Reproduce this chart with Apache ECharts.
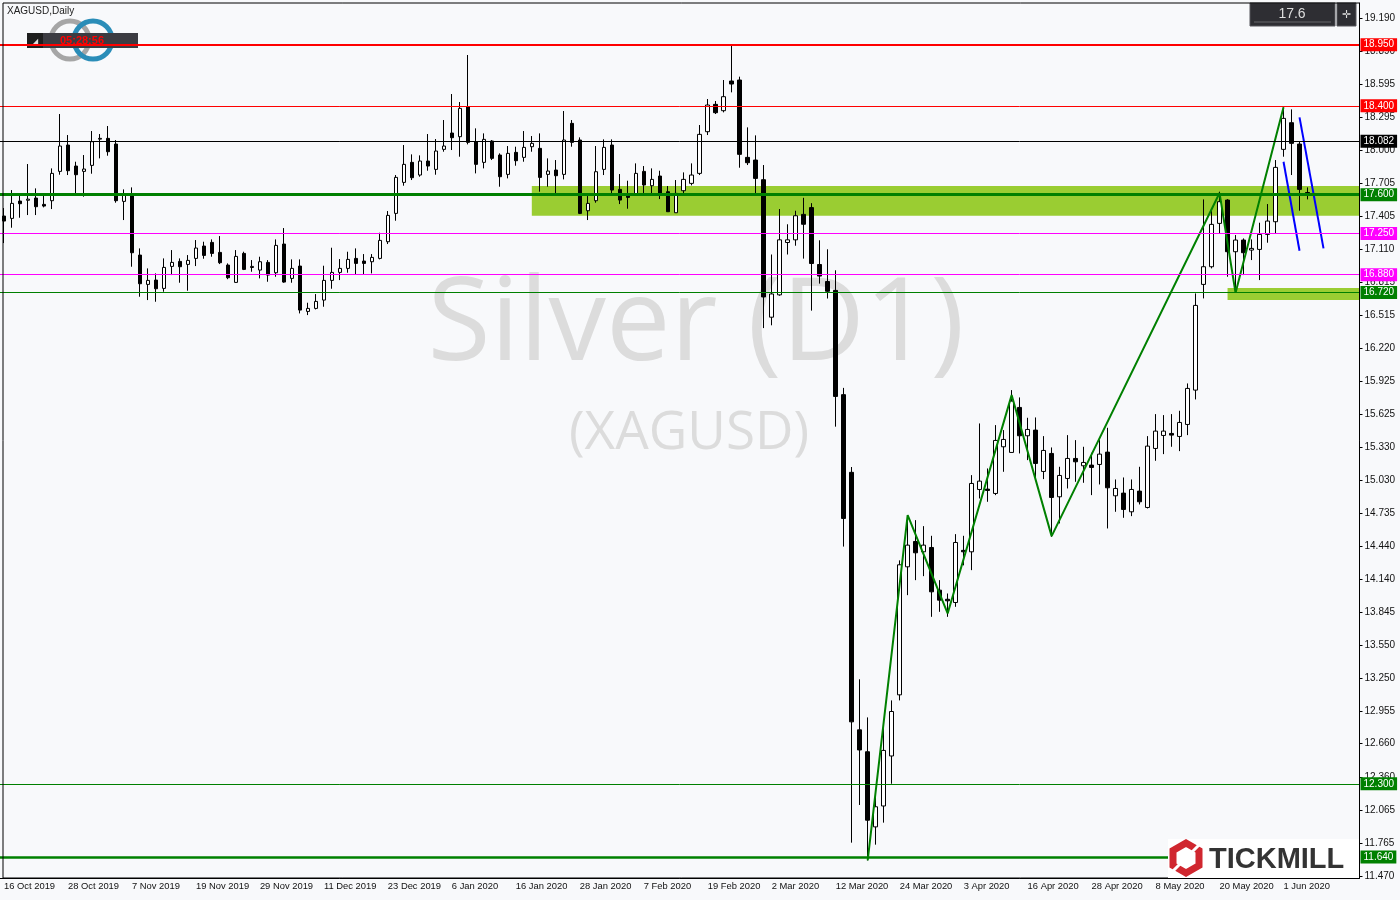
<!DOCTYPE html>
<html><head><meta charset="utf-8">
<script src="https://cdn.jsdelivr.net/npm/echarts/dist/echarts.min.js"></script>
<style>html,body{margin:0;padding:0;background:#f8f9fb;}#c{width:1400px;height:900px;}</style>
</head><body><div id="c"></div>
<script>
const dates = ['16 Oct 2019','17 Oct 2019','18 Oct 2019','21 Oct 2019','22 Oct 2019','23 Oct 2019','24 Oct 2019','25 Oct 2019','28 Oct 2019','29 Oct 2019','30 Oct 2019','31 Oct 2019',
'1 Nov 2019','4 Nov 2019','5 Nov 2019','6 Nov 2019','7 Nov 2019','8 Nov 2019','11 Nov 2019','12 Nov 2019','13 Nov 2019','14 Nov 2019','15 Nov 2019','18 Nov 2019','19 Nov 2019','20 Nov 2019','21 Nov 2019','22 Nov 2019','25 Nov 2019','26 Nov 2019','27 Nov 2019','28 Nov 2019','29 Nov 2019',
'2 Dec 2019','3 Dec 2019','4 Dec 2019','5 Dec 2019','6 Dec 2019','9 Dec 2019','10 Dec 2019','11 Dec 2019','12 Dec 2019','13 Dec 2019','16 Dec 2019','17 Dec 2019','18 Dec 2019','19 Dec 2019','20 Dec 2019','23 Dec 2019','24 Dec 2019','26 Dec 2019','27 Dec 2019','30 Dec 2019','31 Dec 2019',
'2 Jan 2020','3 Jan 2020','6 Jan 2020','7 Jan 2020','8 Jan 2020','9 Jan 2020','10 Jan 2020','13 Jan 2020','14 Jan 2020','15 Jan 2020','16 Jan 2020','17 Jan 2020','20 Jan 2020','21 Jan 2020','22 Jan 2020','23 Jan 2020','24 Jan 2020','27 Jan 2020','28 Jan 2020','29 Jan 2020','30 Jan 2020','31 Jan 2020',
'3 Feb 2020','4 Feb 2020','5 Feb 2020','6 Feb 2020','7 Feb 2020','10 Feb 2020','11 Feb 2020','12 Feb 2020','13 Feb 2020','14 Feb 2020','17 Feb 2020','18 Feb 2020','19 Feb 2020','20 Feb 2020','21 Feb 2020','24 Feb 2020','25 Feb 2020','26 Feb 2020','27 Feb 2020','28 Feb 2020',
'2 Mar 2020','3 Mar 2020','4 Mar 2020','5 Mar 2020','6 Mar 2020','9 Mar 2020','10 Mar 2020','11 Mar 2020','12 Mar 2020','13 Mar 2020','16 Mar 2020','17 Mar 2020','18 Mar 2020','19 Mar 2020','20 Mar 2020','23 Mar 2020','24 Mar 2020','25 Mar 2020','26 Mar 2020','27 Mar 2020','30 Mar 2020','31 Mar 2020',
'1 Apr 2020','2 Apr 2020','3 Apr 2020','6 Apr 2020','7 Apr 2020','8 Apr 2020','9 Apr 2020','13 Apr 2020','14 Apr 2020','15 Apr 2020','16 Apr 2020','17 Apr 2020','20 Apr 2020','21 Apr 2020','22 Apr 2020','23 Apr 2020','24 Apr 2020','27 Apr 2020','28 Apr 2020','29 Apr 2020','30 Apr 2020',
'1 May 2020','4 May 2020','5 May 2020','6 May 2020','7 May 2020','8 May 2020','11 May 2020','12 May 2020','13 May 2020','14 May 2020','15 May 2020','18 May 2020','19 May 2020','20 May 2020','21 May 2020','22 May 2020','25 May 2020','26 May 2020','27 May 2020','28 May 2020','29 May 2020',
'1 Jun 2020','2 Jun 2020','3 Jun 2020','4 Jun 2020',
'5 Jun 2020','8 Jun 2020','9 Jun 2020','10 Jun 2020','11 Jun 2020','12 Jun 2020'];

const opens = [17.408,17.387,17.543,17.55,17.57,17.513,17.546,17.81,18.047,17.858,17.81,17.864,18.10,18.107,18.056,17.54,17.597,17.057,16.793,16.832,
16.757,16.955,17.0,16.973,17.027,17.138,17.171,17.081,16.967,16.811,17.072,16.945,16.922,16.991,16.898,17.156,16.847,16.958,16.55,16.577,
16.652,16.829,16.901,16.937,17.027,17.003,16.997,17.027,17.177,17.432,17.711,17.891,17.777,17.903,17.828,18.008,18.155,18.122,18.392,18.077,
17.891,18.083,17.957,17.783,17.981,17.936,18.032,18.017,17.783,17.822,17.783,18.242,18.092,17.456,17.546,17.828,18.047,17.648,17.588,17.606,
17.81,17.681,17.768,17.627,17.438,17.636,17.702,17.792,18.167,18.413,18.356,18.623,18.632,17.936,17.912,17.735,16.498,16.699,17.17,17.194,
17.423,17.484,16.972,16.819,16.739,15.801,15.102,12.785,12.588,11.912,12.10,12.55,13.10,14.252,14.48,14.387,14.426,14.042,13.96,13.931,
14.40,14.387,14.948,14.951,14.912,15.332,15.281,15.686,15.431,15.482,15.11,15.272,14.882,15.047,15.227,15.161,15.167,15.173,15.284,14.891,
14.915,14.747,14.933,14.786,15.317,15.434,15.452,15.425,15.533,15.842,16.793,16.952,17.342,17.552,17.087,17.192,17.102,17.108,17.243,17.357,
18.008,18.248,18.056,17.62];
const closes = [17.363,17.522,17.519,17.56,17.492,17.498,17.792,18.038,17.816,17.78,17.831,18.077,18.107,17.987,17.546,17.606,17.078,16.799,16.829,16.754,
16.946,16.991,16.952,17.009,17.12,17.054,17.072,16.988,16.853,17.045,16.928,16.955,16.997,16.877,17.144,16.814,16.937,16.562,16.577,16.64,
16.829,16.901,16.937,17.018,16.982,16.982,17.036,17.189,17.414,17.756,17.873,17.753,17.903,17.858,17.993,18.038,18.113,18.377,18.071,17.873,
18.098,17.927,17.762,17.972,17.906,18.026,18.062,17.756,17.813,17.771,18.092,18.071,17.432,17.522,17.807,18.026,17.642,17.552,17.576,17.792,
17.687,17.738,17.606,17.447,17.612,17.738,17.777,18.143,18.407,18.338,18.482,18.596,17.963,17.888,17.747,16.68,16.707,17.194,17.194,17.411,
17.334,16.981,16.868,16.731,15.785,14.687,12.857,12.604,11.972,12.093,12.60,12.95,14.27,14.447,14.378,14.447,14.027,13.952,13.946,14.471,
14.387,15.002,15.023,14.939,15.389,15.398,15.743,15.431,15.488,15.182,15.299,14.876,15.074,15.227,15.197,15.191,15.146,15.266,14.963,14.957,
14.768,14.948,14.837,15.338,15.473,15.473,15.437,15.551,15.857,16.604,16.952,17.333,17.537,17.087,17.192,17.078,17.117,17.243,17.363,17.846,
18.287,18.062,17.648,17.60];
const lows = [17.165,17.303,17.393,17.417,17.417,17.486,17.471,17.78,17.777,17.603,17.582,17.789,17.927,17.951,17.528,17.372,16.952,16.682,16.652,16.637,
16.727,16.877,16.808,16.736,16.958,17.024,17.042,16.976,16.84,16.808,16.922,16.907,16.847,16.817,16.862,16.808,16.808,16.532,16.517,16.568,
16.592,16.754,16.832,16.898,16.886,16.883,16.892,17.018,17.156,17.366,17.681,17.732,17.762,17.816,17.78,17.987,18.002,17.942,18.053,17.792,
17.837,17.912,17.672,17.747,17.861,17.897,17.987,17.627,17.672,17.606,17.738,18.032,17.426,17.372,17.528,17.777,17.606,17.516,17.474,17.597,
17.606,17.606,17.561,17.447,17.438,17.612,17.684,17.777,18.137,18.326,18.341,18.521,17.843,17.867,17.606,16.40,16.425,16.691,17.062,17.141,
17.025,16.557,16.80,16.666,15.513,14.434,11.77,12.109,11.61,11.752,11.95,12.30,13.05,13.997,14.132,14.168,13.802,13.847,13.802,13.892,
14.265,14.222,14.867,14.837,14.897,15.107,15.281,15.272,15.212,15.032,15.041,14.522,14.642,14.957,15.017,15.008,14.897,14.993,14.597,14.747,
14.693,14.708,14.813,14.777,15.206,15.266,15.332,15.293,15.437,15.758,16.667,16.937,17.252,16.862,16.727,16.877,17.012,16.832,17.168,17.252,
17.942,17.777,17.456,17.558];
const highs = [17.48,17.642,17.597,17.876,17.657,17.612,17.837,18.326,18.137,17.897,17.957,18.173,18.146,18.218,18.092,17.648,17.666,17.117,16.937,16.892,
17.027,17.102,17.027,17.057,17.192,17.177,17.198,17.228,16.982,17.102,17.087,17.012,17.042,17.012,17.198,17.30,17.018,17.018,16.628,16.706,
16.961,17.123,17.021,17.087,17.117,17.066,17.066,17.258,17.453,17.777,18.047,17.963,17.954,18.146,18.101,18.272,18.506,18.434,18.857,18.197,
18.152,18.092,17.972,18.038,18.032,18.173,18.128,18.152,17.927,17.912,18.353,18.272,18.116,17.588,18.038,18.098,18.098,17.786,17.726,17.882,
17.858,17.837,17.816,17.678,17.732,17.801,17.882,18.227,18.461,18.443,18.632,18.938,18.662,18.206,18.134,17.867,17.062,17.471,17.334,17.456,
17.572,17.524,17.19,17.109,16.92,15.862,15.15,13.24,12.897,12.235,12.80,13.05,14.31,14.708,14.672,14.618,14.531,14.132,14.012,14.546,
14.531,15.077,15.542,15.137,15.527,15.482,15.842,15.776,15.593,15.596,15.428,15.326,15.152,15.437,15.392,15.332,15.278,15.392,15.503,15.038,
15.056,15.038,15.152,15.428,15.626,15.617,15.626,15.656,15.902,16.712,17.558,17.477,17.627,17.56,17.237,17.207,17.198,17.348,17.516,17.912,
18.386,18.368,18.077,17.666];

const yTicks = [19.190,18.890,18.595,18.295,18.000,17.705,17.405,17.110,16.815,16.515,16.220,15.925,15.625,15.330,15.030,14.735,14.440,14.140,13.845,13.550,13.250,12.955,12.660,12.360,12.065,11.765,11.470];

const levels = [18.950,18.400,18.082,17.600,17.250,16.880,16.720,12.300,11.640];
const zones = [[66,17.678,17.411],[153,16.760,16.652]];
const zigzag = [[108,11.61],[113,14.717],[118,13.832],[126,15.797],[131,14.528],[152,17.615],[154,16.718],[160,18.386]];
const blueLine1 = [[160,17.897],[162,17.096]];
const blueLine2 = [[162,18.296],[165,17.117]];
const lastPrice = '17.6';

const levelStyle = [
  {c:'#ff0000',w:2},{c:'#ff0000',w:1},{c:'#000000',w:1},{c:'#008000',w:3},
  {c:'#ff00ff',w:1},{c:'#ff00ff',w:1},{c:'#008000',w:1},{c:'#008000',w:1},{c:'#008000',w:2.5}];

const candles = opens.map((o,i)=>[o,closes[i],lows[i],highs[i]]);
const FONT = 'Liberation Sans';

const chart = echarts.init(document.getElementById('c'), null, {renderer:'canvas'});
const option = {
  animation:false,
  backgroundColor:'#f8f9fb',
  grid:{left:0,right:40.5,top:3,bottom:22},
  xAxis:{type:'category',data:dates,boundaryGap:true,
    axisLine:{lineStyle:{color:'#000',width:1}},
    axisTick:{interval:7,alignWithLabel:true,length:4,lineStyle:{color:'#000'}},
    axisLabel:{interval:7,align:'left',margin:4,fontSize:9.4,color:'#111',fontFamily:FONT,
      formatter:(v,i)=> i < opens.length ? v : ''},
    splitLine:{show:false}},
  yAxis:{type:'value',position:'right',min:11.452,max:19.325,
    axisLine:{show:true,lineStyle:{color:'#000'}},
    axisTick:{show:true,customValues:yTicks,length:3,lineStyle:{color:'#000'}},
    axisLabel:{customValues:yTicks,formatter:v=>Number(v).toFixed(3),fontSize:10,color:'#111',margin:5,fontFamily:FONT},
    splitLine:{show:false}},
  series:[
    {type:'candlestick',data:candles,barWidth:4,
     itemStyle:{color:'#ffffff',color0:'#000000',borderColor:'#000000',borderColor0:'#000000',borderWidth:1},
     markArea:{silent:true,itemStyle:{color:'#9acd32',opacity:1},
       data:zones.map(z=>[{xAxis:z[0],yAxis:z[1]},{yAxis:z[2]}])},
     markLine:{silent:true,symbol:['none','none'],animation:false,
       data:levels.map((v,i)=>({yAxis:v,name:v.toFixed(3),
         lineStyle:{color:levelStyle[i].c,width:levelStyle[i].w,type:'solid'},
         label:{show:true,position:'end',distance:1,formatter:v.toFixed(3),
           color:'#ffffff',backgroundColor:levelStyle[i].c,padding:[2,3,1,3],fontSize:10,fontFamily:FONT}}))}
    },
    {type:'line',data:zigzag,showSymbol:false,symbol:'none',lineStyle:{color:'#008000',width:2},z:3},
    {type:'line',data:blueLine1,showSymbol:false,symbol:'none',lineStyle:{color:'#0000ff',width:2},z:3},
    {type:'line',data:blueLine2,showSymbol:false,symbol:'none',lineStyle:{color:'#0000ff',width:2},z:3}
  ],
  graphic:[
    {type:'text',z:0,x:696,y:327,style:{text:'Silver (D1)',font:'115px "Open Sans"',fill:'#dcdcdc',textAlign:'center',textVerticalAlign:'middle'}},
    {type:'text',z:0,x:689,y:434,style:{text:'(XAGUSD)',font:'53px "Open Sans"',fill:'#dcdcdc',textAlign:'center',textVerticalAlign:'middle'}},
    {type:'text',z:10,x:7,y:11,style:{text:'XAGUSD,Daily',font:'10px "Liberation Sans"',fill:'#222',textVerticalAlign:'middle'}},
    {type:'circle',z:1,shape:{cx:70,cy:40,r:19},style:{fill:'none',stroke:'#a6a6a6',lineWidth:5}},
    {type:'circle',z:1,shape:{cx:93,cy:40,r:19},style:{fill:'none',stroke:'#2a8db8',lineWidth:5}},
    {type:'rect',z:1,shape:{x:27,y:33,width:111,height:15},style:{fill:'#3c3c42'}},
    {type:'rect',z:1,shape:{x:27,y:33,width:16,height:15},style:{fill:'#1e1e1e'}},
    {type:'text',z:1,x:35,y:42,style:{text:'◢',font:'8px "DejaVu Sans"',fill:'#ddd',textAlign:'center',textVerticalAlign:'middle'}},
    {type:'text',z:1,x:82,y:41,style:{text:'05:28:56',font:'bold 11px "Liberation Sans"',fill:'#ff0000',textAlign:'center',textVerticalAlign:'middle'}},
    {type:'rect',z:10,shape:{x:1250,y:3,width:85,height:23},style:{fill:'#2e2e33',stroke:'#55555a',lineWidth:1}},
    {type:'line',z:10,shape:{x1:1254,y1:22,x2:1331,y2:22},style:{stroke:'#66666b',lineWidth:1}},
    {type:'text',z:10,x:1292,y:14,style:{text:lastPrice,font:'14px "Liberation Sans"',fill:'#dddddd',textAlign:'center',textVerticalAlign:'middle'}},
    {type:'rect',z:10,shape:{x:1337,y:3,width:19,height:23},style:{fill:'#2e2e33',stroke:'#55555a',lineWidth:1}},
    {type:'text',z:10,x:1346.5,y:15,style:{text:'✛',font:'11px "DejaVu Sans"',fill:'#dddddd',textAlign:'center',textVerticalAlign:'middle'}},
    {type:'rect',z:100,shape:{x:1168,y:839,width:191,height:39},style:{fill:'#ffffff'}},
    {type:'polygon',z:101,shape:{points:[[1186,843],[1199,850.5],[1199,865.5],[1186,873],[1173,865.5],[1173,850.5]]},style:{fill:'none',stroke:'#d0272f',lineWidth:7}},
    {type:'line',z:102,shape:{x1:1168,y1:876,x2:1181,y2:863},style:{stroke:'#ffffff',lineWidth:3}},
    {type:'line',z:102,shape:{x1:1191,y1:853,x2:1204,y2:840},style:{stroke:'#ffffff',lineWidth:3}},
    {type:'text',z:101,x:1209,y:860,style:{text:'TICKMILL',font:'bold 29px "Liberation Sans"',fill:'#333333',textVerticalAlign:'middle'}},
    {type:'rect',z:50,shape:{x:3,y:3,width:1356.5,height:875},style:{fill:'none',stroke:'#000',lineWidth:1}}
  ]
};
chart.setOption(option);
</script></body></html>
